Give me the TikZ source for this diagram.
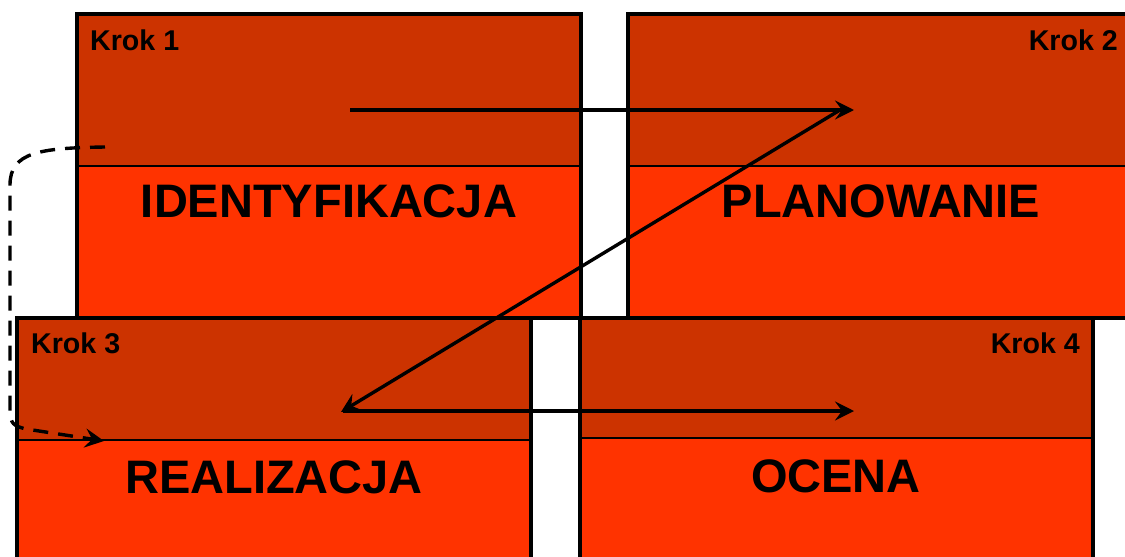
\documentclass[tikz,border=0pt]{standalone}
\usepackage{fontspec}
\setmainfont{Liberation Sans}
\usetikzlibrary{arrows.meta}
\definecolor{headred}{HTML}{CC3300}
\definecolor{bodyred}{HTML}{FF3300}
\tikzset{
  boxhead/.style={fill=headred},
  boxbody/.style={fill=bodyred},
  boxframe/.style={draw=black, line width=3.6pt},
  divider/.style={draw=black, line width=1.6pt},
  steplabel/.style={font=\bfseries\fontsize{28.6}{30}\selectfont, inner sep=0pt},
  titlelabel/.style={font=\bfseries\fontsize{47}{50}\selectfont, inner sep=0pt, anchor=base},
  flow/.style={draw=black, line width=3.4pt, -{Stealth[length=19pt, width=19pt, inset=7pt]}},
  loopback/.style={draw=black, line width=3.4pt, dash pattern=on 15pt off 10pt,
    -{Stealth[length=19pt, width=19pt, inset=7pt]}}
}
% one step box: #1 left, #2 top, #3 right, #4 divider, #5 bottom
\newcommand{\stepbox}[5]{%
  \path[boxhead] (#1,#2) rectangle (#3,#4);
  \path[boxbody] (#1,#4) rectangle (#3,#5);
  \draw[divider] (#1,#4) -- (#3,#4);
  \draw[boxframe] (#1,#2) rectangle (#3,#5);
}
\begin{document}
\begin{tikzpicture}[x=1pt, y=-1pt]
  \useasboundingbox (0,0) rectangle (1125,557);
  \clip (0,0) rectangle (1125,557);
  \fill[white] (0,0) rectangle (1125,557);

  % upper row
  \stepbox{77}{14}{581}{166}{318}
  \stepbox{628}{14}{1132}{166}{318}
  % lower row, drawn over the upper one
  \stepbox{17}{318}{531}{440}{580}
  \stepbox{580}{318}{1093}{438}{580}

  % step labels
  \node[steplabel, anchor=base west] (k1) at (90,50) {Krok 1};
  \node[steplabel, anchor=base east] (k2) at (1118,50) {Krok 2};
  \node[steplabel, anchor=base west] (k3) at (31,353) {Krok 3};
  \node[steplabel, anchor=base east] (k4) at (1080,353) {Krok 4};

  % titles
  \node[titlelabel] (t1) at (329,217) {IDENTYFIKACJA};
  \node[titlelabel] (t2) at (881,217) {PLANOWANIE};
  \node[titlelabel] (t3) at (274,493) {REALIZACJA};
  \node[titlelabel] (t4) at (836,492) {OCENA};

  % flow between the steps
  \coordinate (s1) at (350,110);
  \coordinate (e1) at (854,110);
  \coordinate (s2) at (840,110);
  \coordinate (e2) at (341,412);
  \coordinate (s3) at (343,411);
  \coordinate (e3) at (854,411);
  \draw[flow] (s1) -- (e1);
  \draw[flow] (s2) -- (e2);
  \draw[flow] (s3) -- (e3);

  % return loop from step 1 to step 3
  \coordinate (r1) at (105,147);
  \coordinate (r2) at (104,441);
  \draw[loopback] (r1) .. controls (40,148) and (10,152) .. (10,185)
     -- (10,410) .. controls (10,424) and (14,426) .. (26,429) -- (r2);
\end{tikzpicture}
\end{document}
